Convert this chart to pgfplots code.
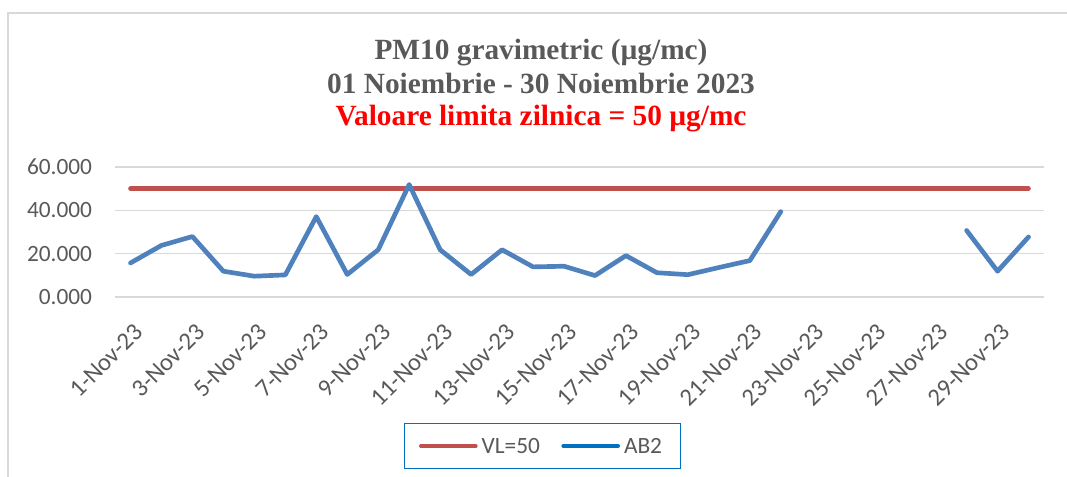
\documentclass[border=0pt]{standalone}
\usepackage{pgfplots}
\pgfplotsset{compat=1.18}
\usepackage{fontspec}
\setmainfont{Carlito}
\newfontfamily\titlefont{Liberation Serif}
\definecolor{txtgray}{RGB}{89,89,89}
\definecolor{gridgray}{RGB}{217,217,217}
\definecolor{vlred}{RGB}{192,80,77}
\definecolor{abblue}{RGB}{79,129,189}
\definecolor{legblue}{RGB}{0,112,192}
\pgfplotstableread{
day val
1 15.7
2 23.8
3 27.9
4 11.9
5 9.6
6 10.2
7 37.1
8 10.4
9 21.8
10 51.9
11 21.8
12 10.4
13 21.8
14 13.9
15 14.2
16 9.9
17 19.1
18 11.2
19 10.3
20 13.6
21 16.8
22 39.4
23 nan
24 nan
25 nan
26 nan
27 nan
28 30.7
29 11.9
30 27.7
}\abdata
\begin{document}
\begin{tikzpicture}[x=0.75pt,y=0.75pt]
\useasboundingbox (0,0) rectangle (1067,477);
\draw[gridgray, line width=1.1pt] (8,0) -- (8,464) -- (1067,464);
\begin{axis}[
  at={(86.25pt,135pt)}, anchor=south west,
  scale only axis, width=696.75pt, height=97.5pt,
  xmin=0.5, xmax=30.5, ymin=0, ymax=60,
  axis line style={draw=none},
  ymajorgrids, grid style={gridgray, line width=0.8pt},
  ytick={0,20,40,60},
  yticklabels={0.000,20.000,40.000,60.000},
  ytick style={draw=none},
  xtick={1,3,...,29},
  xticklabels={1-Nov-23,3-Nov-23,5-Nov-23,7-Nov-23,9-Nov-23,11-Nov-23,13-Nov-23,15-Nov-23,17-Nov-23,19-Nov-23,21-Nov-23,23-Nov-23,25-Nov-23,27-Nov-23,29-Nov-23},
  xtick style={draw=none},
  extra x ticks={0.5,2.5,...,30.5},
  extra x tick labels={},
  extra x tick style={tick align=outside, major tick length=5.25pt, tick style={draw=gridgray, line width=0.8pt}},
  ticklabel style={text=txtgray},
  yticklabel style={font=\fontsize{17.5}{20}\selectfont, anchor=east, inner sep=0pt, xshift=-17pt},
  xticklabel style={font=\fontsize{18.5}{20}\selectfont, inner sep=0pt, xshift=2pt, yshift=-18.75pt, rotate=45, anchor=north east},
  legend columns=2,
  legend style={at={(0.4602,-1.146)}, anchor=center, draw=legblue, line width=1pt,
    font=\fontsize{17.5}{20}\selectfont, text=txtgray,
    inner xsep=11pt, inner ysep=11pt,
    nodes={inner xsep=3pt, inner ysep=0pt, text height=12pt, text depth=0pt},
    /tikz/every even column/.append style={column sep=13pt}},
  legend image code/.code={\draw[#1] (0pt,0pt) -- (41pt,0pt);},
]
\addplot[vlred, line width=3.4pt, line cap=round, forget plot] coordinates {(1,50) (30,50)};
\addplot[abblue, line width=3.5pt, line cap=round, line join=round, unbounded coords=jump, forget plot] table[x=day, y=val] {\abdata};
\addlegendimage{vlred, line width=3pt, line cap=round}
\addlegendentry{VL=50}
\addlegendimage{legblue, line width=3pt, line cap=round}
\addlegendentry{AB2}
\end{axis}
\node[anchor=base, font=\titlefont\bfseries\fontsize{22}{24}\selectfont, text=txtgray] at (541,417) {PM10 gravimetric (µg/mc)};
\node[anchor=base, font=\titlefont\bfseries\fontsize{22}{24}\selectfont, text=txtgray] at (541,383) {01 Noiembrie - 30 Noiembrie 2023};
\node[anchor=base, font=\titlefont\bfseries\fontsize{22}{24}\selectfont, text=red] at (541,351) {Valoare limita zilnica = 50 µg/mc};
\end{tikzpicture}
\end{document}
